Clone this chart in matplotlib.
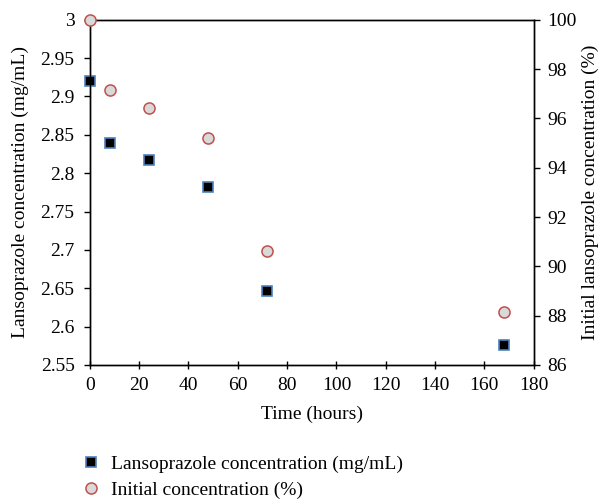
import numpy as np
import matplotlib
matplotlib.use('Agg')
import matplotlib.pyplot as plt

plt.rcParams['font.family'] = ['Liberation Serif', 'DejaVu Serif']
plt.rcParams['font.size'] = 14

# data
hours = [0, 8, 24, 48, 72, 168]
conc_mg = [2.920, 2.839, 2.817, 2.782, 2.647, 2.576]
conc_pct = [100.0, 97.16, 96.42, 95.22, 90.62, 88.15]

x_ticks = [0, 20, 40, 60, 80, 100, 120, 140, 160, 180]
left_ticks = [2.55, 2.6, 2.65, 2.7, 2.75, 2.8, 2.85, 2.9, 2.95, 3]
left_labels = ['2.55', '2.6', '2.65', '2.7', '2.75', '2.8', '2.85', '2.9', '2.95', '3']
right_ticks = [86, 88, 90, 92, 94, 96, 98, 100]

fig = plt.figure(figsize=(5.99, 5.01), dpi=100)
ax = fig.add_axes([0.150, 0.2715, 0.741, 0.689])
ax2 = ax.twinx()

sq, = ax.plot(hours, conc_mg, ls='none', marker='s', ms=7.5,
              mfc='black', mec='#4f81bd', mew=1.2, clip_on=False, zorder=5,
              label='Lansoprazole concentration (mg/mL)')
ci, = ax2.plot(hours, conc_pct, ls='none', marker='o', ms=8,
               mfc='#d9d9d9', mec='#c0504d', mew=1.1, clip_on=False, zorder=5,
               label='Initial concentration (%)')

ax.set_xlim(0, 180)
ax.set_ylim(2.55, 3)
ax2.set_ylim(86, 100)
ax.set_xticks(x_ticks)
ax.set_yticks(left_ticks)
ax.set_yticklabels(left_labels)
ax2.set_yticks(right_ticks)

for a in (ax, ax2):
    for s in a.spines.values():
        s.set_linewidth(1.0)
ax.tick_params(axis='x', direction='inout', length=6, width=1, pad=6)
ax.tick_params(axis='y', direction='out', length=4, width=1, pad=7)
ax2.tick_params(axis='y', direction='out', length=4.5, width=1, pad=5)

ax.set_xlabel('Time (hours)', labelpad=8)
ax.set_ylabel('Lansoprazole concentration (mg/mL)', labelpad=8)
ax2.set_ylabel('Initial lansoprazole concentration (%)', labelpad=4)

fig.legend(handles=[sq, ci], loc='lower left', bbox_to_anchor=(0.13, -0.011),
           frameon=False, handlelength=0.6, handletextpad=0.7, labelspacing=0.4,
           borderaxespad=0.0)

fig.savefig('out.png', dpi=100)
